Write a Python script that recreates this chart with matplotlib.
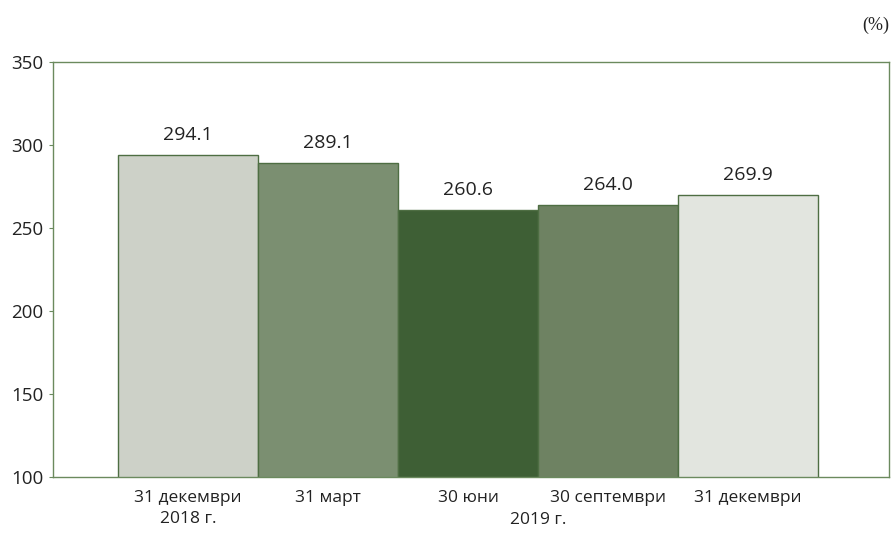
import matplotlib
matplotlib.use("Agg")
import matplotlib.pyplot as plt
from matplotlib import font_manager

names = {f.name for f in font_manager.fontManager.ttflist}
fam = "Liberation Sans Narrow" if "Liberation Sans Narrow" in names else "Open Sans"
plt.rcParams['font.family'] = [fam, 'DejaVu Sans']

categories = ["31 декември\n2018 г.", "31 март", "30 юни", "30 септември", "31 декември"]
values = [294.1, 289.1, 260.6, 264.0, 269.9]
colors = ["#CDD1C8", "#7B8F71", "#3E5F35", "#6E8262", "#E2E5DF"]
yticks = [100, 150, 200, 250, 300, 350]

fig = plt.figure(figsize=(8.91, 5.34), dpi=100)
ax = fig.add_axes([53/891, 57/534, 836/891, 415/534])
x = list(range(len(values)))
bars = ax.bar(x, values, width=1.0, color=colors, edgecolor="#4E6E43", linewidth=1.0, bottom=0)
ax.set_ylim(100, 350)
ax.set_xlim(-0.964, 5.007)
ax.set_yticks(yticks)
ax.tick_params(axis='y', direction='out', length=3, color="#6B8A5E", labelsize=13.5, labelcolor="#222222", pad=4)
ax.set_xticks(x)
ax.set_xticklabels(categories, fontsize=12.5, color="#222222", va='top', linespacing=1.45)
ax.tick_params(axis='x', length=0, pad=9)
for s in ax.spines.values():
    s.set_color("#6B8A5E")
    s.set_linewidth(1.0)
for xi, v in zip(x, values):
    ax.annotate(f"{v:.1f}", (xi, v), xytext=(0, 8), textcoords="offset points",
                ha="center", va="bottom", fontsize=14, color="#222222")
ax.text(2.5, -(520 - 477) / 415, "2019 г.", transform=ax.get_xaxis_transform(), ha="center", va="center",
        fontsize=12.5, color="#222222")
fig.text(889/891, 1 - 25/534, "(%)", ha="right", va="center", fontsize=13, color="#222222",
         family=["Liberation Serif", "DejaVu Serif"])
fig.savefig("out.png", dpi=100)
